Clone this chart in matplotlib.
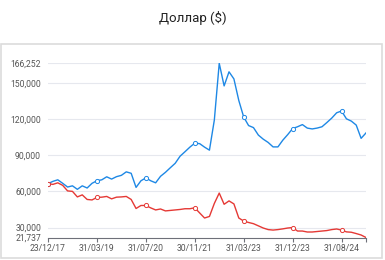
import numpy as np
import matplotlib.pyplot as plt
from matplotlib.patches import Rectangle

# data (one point per step, labels every 10 steps)
tick_labels = ['23/12/17', '31/03/19', '31/07/20', '30/11/21', '31/03/23', '31/12/23', '31/08/24']

usd_blue = [66400, 68300, 69600, 66700, 63600, 64600, 61700, 64600, 62800, 66700,
            68800, 69600, 72100, 70200, 72200, 73300, 76200, 75000, 63300, 68800,
            71200, 68800, 67100, 72500, 75800, 79600, 83300, 89200, 92900, 96700,
            100000, 99600, 96700, 94200, 119200, 166252, 147500, 159200, 153300, 135400,
            121700, 114600, 112900, 106700, 103300, 100600, 96900, 96900, 102500, 107100,
            112100, 113600, 115400, 112500, 111800, 112500, 113600, 117100, 120800, 125200,
            126700, 120200, 118300, 115000, 104000, 108500]

usd_red = [66400, 65800, 67100, 65000, 60400, 60000, 55400, 57100, 53300, 52900,
           55000, 55200, 55800, 53800, 55200, 55400, 55800, 53300, 45800, 48300,
           48300, 46300, 44600, 45400, 43800, 44200, 44600, 45000, 45600, 45600,
           46400, 42100, 37900, 39200, 50000, 58600, 49300, 52100, 49600, 37900,
           35400, 34200, 33200, 31400, 29600, 28300, 27900, 28300, 28900, 29600,
           30000, 27100, 27100, 26300, 26300, 26700, 27100, 27500, 28300, 28800,
           27900, 26400, 26100, 25000, 23800, 21737]

y_min = 21737
y_max = 166252
y_ticks = [30000, 60000, 90000, 120000, 150000, 166252]

plt.rcParams['font.family'] = ['Roboto', 'DejaVu Sans']

fig = plt.figure(figsize=(3.85, 2.6), dpi=100)
fig.patches.append(Rectangle((1 / 385, 2 / 260), 381 / 385, 214 / 260, transform=fig.transFigure,
                             fill=False, edgecolor='#dcdcdc', linewidth=1.2))
fig.text(0.5, 1 - 18 / 260, 'Доллар ($)', ha='center', va='center', fontsize=9.5, color='#222222')

ax = fig.add_axes([48 / 385, 1 - 237.5 / 260, 318 / 385, 174.2 / 260])

x = np.arange(len(usd_blue))
ax.plot(x, usd_blue, color='#1e88e5', lw=1.0, marker='o', markevery=10, ms=3.0,
        mfc='white', mec='#1e88e5', mew=0.7, zorder=3)
ax.plot(x, usd_red, color='#e53935', lw=1.0, marker='o', markevery=10, ms=3.0,
        mfc='white', mec='#e53935', mew=0.7, zorder=3)

ax.set_xlim(0, len(usd_blue) - 1)
ax.set_ylim(y_min, y_max)

ax.set_yticks([y_min] + y_ticks)
ax.set_yticklabels(['{:,}'.format(v) for v in [y_min] + y_ticks])
for v in y_ticks:
    ax.axhline(v, color='#e6e8ee', lw=0.8, zorder=1)

ax.set_xticks(np.arange(0, 61, 10))
ax.set_xticklabels(tick_labels)
ax.set_xticks([len(usd_blue) - 1], minor=True)

for s in ['top', 'right', 'left']:
    ax.spines[s].set_visible(False)
ax.spines['bottom'].set_color('#6e7079')
ax.spines['bottom'].set_linewidth(0.8)

ax.tick_params(axis='y', length=0, pad=5, labelsize=6.2, labelcolor='#555555')
ax.tick_params(axis='x', which='both', length=3, width=0.8, color='#6e7079', pad=2,
               labelsize=6.2, labelcolor='#555555')

fig.savefig('out.png', dpi=100)
